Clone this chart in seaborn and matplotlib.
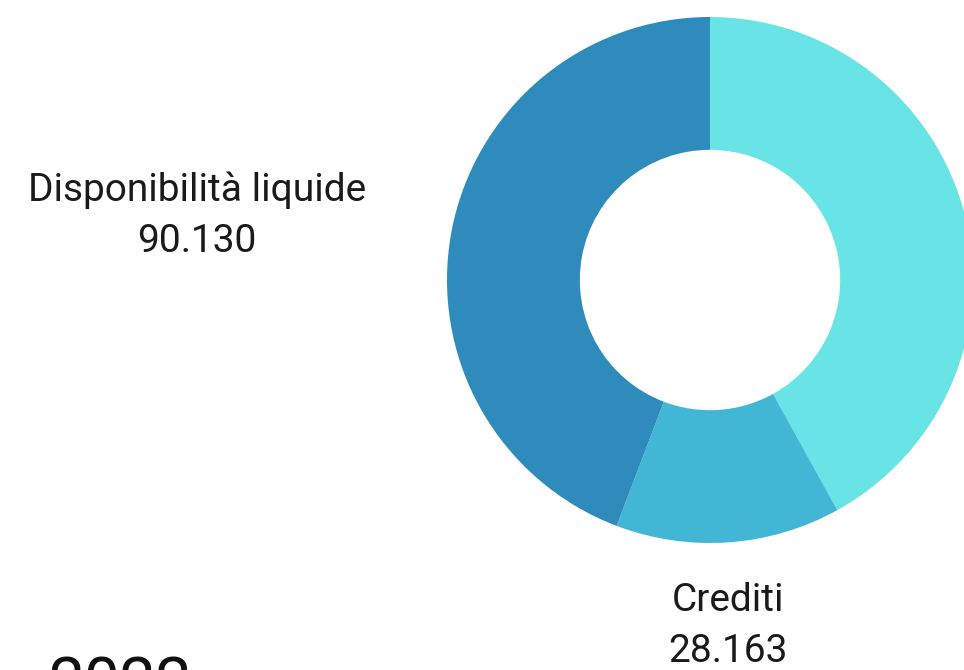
import seaborn as sns
import matplotlib.pyplot as plt

# dati
voci = ["Altro", "Crediti", "Disponibilità liquide"]
valori = [85500, 28163, 90130]
etichette = ["", "Crediti\n28.163", "Disponibilità liquide\n90.130"]
colori = ["#68E3E6", "#42B7D5", "#2E8BBB"]

sns.set_theme(style="white")
plt.rcParams['font.family'] = ['Roboto', 'DejaVu Sans']

fig = plt.figure(figsize=(9.64, 6.7), dpi=100)
# asse posizionato in modo che la ciambella esca a destra, come nell'originale
ax = fig.add_axes([447 / 964, (670 - 543) / 670, 526 / 964, 526 / 670])

wedges, _ = ax.pie(valori, colors=colori, startangle=90, counterclock=False,
                   radius=1, wedgeprops=dict(width=0.505, linewidth=0))
for w in wedges:
    w.set_clip_on(False)
ax.set_xlim(-1, 1)
ax.set_ylim(-1, 1)
ax.set_aspect('auto')
ax.axis('off')

# etichette esterne
fig.text(197 / 964, 1 - 216 / 670, etichette[2], ha='center', va='center',
         fontsize=28, color='#1a1a1a', linespacing=1.5)
fig.text(728 / 964, 1 - 626 / 670, etichette[1], ha='center', va='center',
         fontsize=28, color='#1a1a1a', linespacing=1.5)

# titolo tagliato in basso (come nel riferimento)
fig.text(48 / 964, 1 - 655 / 670, "2022", ha='left', va='top',
         fontsize=46, color='#111111')

fig.savefig("out.png", dpi=100)
